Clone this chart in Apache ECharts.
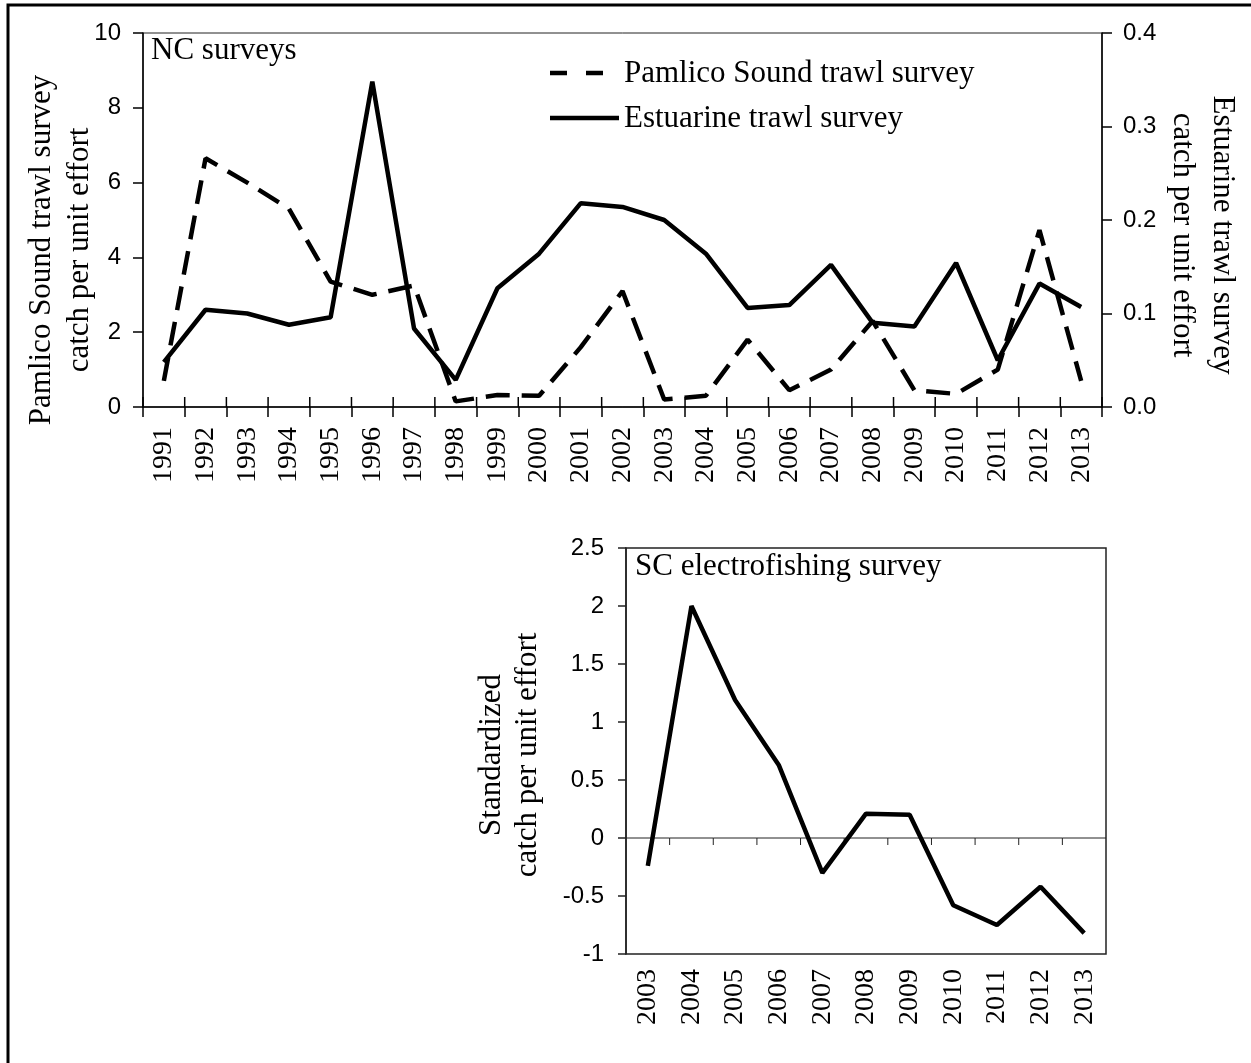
<!DOCTYPE html>
<html>
<head>
<meta charset="utf-8">
<script src="https://cdn.jsdelivr.net/npm/echarts@6/dist/echarts.min.js"></script>
<style>
  html, body { margin: 0; padding: 0; background: #fff; }
  #chart { width: 1251px; height: 1063px; }
</style>
</head>
<body>
<div id="chart"></div>
<script>
// NC surveys (1991-2013)
const ncYears = ['1991','1992','1993','1994','1995','1996','1997','1998','1999','2000','2001','2002',
                 '2003','2004','2005','2006','2007','2008','2009','2010','2011','2012','2013'];
// Pamlico Sound trawl survey CPUE (left axis)
const pamlicoCpue = [0.7, 6.65, 6.0, 5.3, 3.35, 3.0, 3.25, 0.15, 0.32, 0.3, 1.6, 3.1,
                     0.2, 0.3, 1.8, 0.45, 1.0, 2.3, 0.45, 0.35, 1.0, 4.73, 0.7];
// Estuarine trawl survey CPUE (right axis)
const estuarineCpue = [0.048, 0.104, 0.1, 0.088, 0.096, 0.348, 0.084, 0.029, 0.127, 0.164, 0.218, 0.214,
                       0.2, 0.164, 0.106, 0.109, 0.152, 0.09, 0.086, 0.154, 0.05, 0.132, 0.107];

// SC electrofishing survey (2003-2013)
const scYears = ['2003','2004','2005','2006','2007','2008','2009','2010','2011','2012','2013'];
const scStdCpue = [-0.24, 2.0, 1.19, 0.63, -0.3, 0.21, 0.2, -0.58, -0.75, -0.42, -0.82];

const SERIF = "'Liberation Serif', 'Times New Roman', serif";
const SANS = "'Liberation Sans', Arial, sans-serif";
const INK = '#000';
const DASH = [24, 12];

const chart = echarts.init(document.getElementById('chart'), null, { renderer: 'canvas' });

const yearLabel = (margin) => ({
  show: true, rotate: 90, margin: margin, interval: 0,
  fontFamily: SERIF, fontSize: 28, color: INK
});
const valueLabel = (margin, fmt) => ({
  show: true, margin: margin, fontFamily: SANS, fontSize: 24, color: INK, formatter: fmt
});

// inward half of the NC year ticks, at category boundaries
function ncInnerTicks(params, api) {
  const i = api.value(0);
  const p = api.coord([i, 0]);
  const bw = api.size([1, 0])[0];
  const xs = [p[0] - bw / 2];
  if (i === ncYears.length - 1) xs.push(p[0] + bw / 2);
  return {
    type: 'group',
    children: xs.map(x => ({
      type: 'line', silent: true,
      shape: { x1: x, y1: p[1], x2: x, y2: p[1] - 10 },
      style: { stroke: INK, lineWidth: 1.5 }
    }))
  };
}

// zero line of the SC panel with downward ticks between years
function scZeroLine(params, api) {
  const i = api.value(0);
  const p = api.coord([i, 0]);
  const bw = api.size([1, 0])[0];
  const children = [{
    type: 'line', silent: true,
    shape: { x1: p[0] - bw / 2, y1: p[1], x2: p[0] + bw / 2, y2: p[1] },
    style: { stroke: '#222', lineWidth: 1 }
  }];
  if (i > 0) {
    children.push({
      type: 'line', silent: true,
      shape: { x1: p[0] - bw / 2, y1: p[1], x2: p[0] - bw / 2, y2: p[1] + 7 },
      style: { stroke: '#222', lineWidth: 1 }
    });
  }
  return { type: 'group', children: children };
}

const option = {
  animation: false,
  backgroundColor: '#fff',
  grid: [
    { left: 143, top: 33, width: 959, height: 374, show: true, borderColor: '#222', borderWidth: 1 },
    { left: 626, top: 548, width: 480, height: 406, show: true, borderColor: '#222', borderWidth: 1.5 }
  ],
  xAxis: [
    {
      type: 'category', gridIndex: 0, data: ncYears,
      axisLine: { show: true, onZero: false, lineStyle: { color: INK, width: 1.5 } },
      axisTick: { show: true, inside: false, length: 10, interval: 0, lineStyle: { color: INK, width: 1.5 } },
      axisLabel: yearLabel(20), splitLine: { show: false }
    },
    {
      type: 'category', gridIndex: 1, data: scYears,
      axisLine: { show: false, onZero: false },
      axisTick: { show: false },
      axisLabel: yearLabel(15), splitLine: { show: false }
    }
  ],
  yAxis: [
    {
      type: 'value', gridIndex: 0, position: 'left', min: 0, max: 10, interval: 2,
      axisLine: { show: true, lineStyle: { color: INK, width: 1.5 } },
      axisTick: { show: true, inside: false, length: 10, lineStyle: { color: INK, width: 1.5 } },
      axisLabel: valueLabel(22), splitLine: { show: false }
    },
    {
      type: 'value', gridIndex: 0, position: 'right', min: 0, max: 0.4, interval: 0.1,
      axisLine: { show: true, lineStyle: { color: INK, width: 1.5 } },
      axisTick: { show: true, inside: false, length: 10, lineStyle: { color: INK, width: 1.5 } },
      axisLabel: valueLabel(21, v => v.toFixed(1)), splitLine: { show: false }
    },
    {
      type: 'value', gridIndex: 1, position: 'left', min: -1, max: 2.5, interval: 0.5,
      axisLine: { show: true, lineStyle: { color: '#222', width: 1.5 } },
      axisTick: { show: true, inside: false, length: 8, lineStyle: { color: '#222', width: 1.5 } },
      axisLabel: valueLabel(22), splitLine: { show: false }
    }
  ],
  series: [
    {
      name: 'Pamlico Sound trawl survey', type: 'line', xAxisIndex: 0, yAxisIndex: 0,
      data: pamlicoCpue, symbol: 'none', smooth: false,
      lineStyle: { color: INK, width: 4.5, type: DASH }, itemStyle: { color: INK }
    },
    {
      name: 'Estuarine trawl survey', type: 'line', xAxisIndex: 0, yAxisIndex: 1,
      data: estuarineCpue, symbol: 'none', smooth: false,
      lineStyle: { color: INK, width: 4.5, type: 'solid' }, itemStyle: { color: INK }
    },
    {
      name: 'SC electrofishing survey', type: 'line', xAxisIndex: 1, yAxisIndex: 2, z: 3,
      data: scStdCpue, symbol: 'none', smooth: false,
      lineStyle: { color: INK, width: 4.5, type: 'solid' }, itemStyle: { color: INK }
    },
    {
      type: 'custom', xAxisIndex: 0, yAxisIndex: 0, silent: true, clip: false, z: 4,
      renderItem: ncInnerTicks,
      data: ncYears.map((y, i) => [i, 0])
    },
    {
      type: 'custom', xAxisIndex: 1, yAxisIndex: 2, silent: true, clip: false, z: 1,
      renderItem: scZeroLine,
      data: scYears.map((y, i) => [i, 0])
    }
  ],
  graphic: [
    { // figure frame
      type: 'rect', silent: true, z: 100,
      shape: { x: 8, y: 5, width: 1300, height: 1100 },
      style: { fill: 'none', stroke: INK, lineWidth: 3 }
    },
    {
      type: 'text', left: 151, top: 35, silent: true,
      style: { text: 'NC surveys', fontFamily: SERIF, fontSize: 31, fill: INK }
    },
    {
      type: 'text', left: 635, top: 551, silent: true,
      style: { text: 'SC electrofishing survey', fontFamily: SERIF, fontSize: 31, fill: INK }
    },
    // key for the two NC series
    {
      type: 'line', silent: true,
      shape: { x1: 550, y1: 73, x2: 604, y2: 73 },
      style: { stroke: INK, lineWidth: 4.5, lineDash: [17, 19] }
    },
    {
      type: 'text', x: 624, y: 74, silent: true,
      style: { text: 'Pamlico Sound trawl survey', fontFamily: SERIF, fontSize: 31, fill: INK,
               align: 'left', verticalAlign: 'middle' }
    },
    {
      type: 'line', silent: true,
      shape: { x1: 550, y1: 118, x2: 619, y2: 118 },
      style: { stroke: INK, lineWidth: 4.5 }
    },
    {
      type: 'text', x: 624, y: 119, silent: true,
      style: { text: 'Estuarine trawl survey', fontFamily: SERIF, fontSize: 31, fill: INK,
               align: 'left', verticalAlign: 'middle' }
    },
    // axis titles
    {
      type: 'text', x: 61, y: 250, rotation: Math.PI / 2, silent: true,
      style: { text: 'Pamlico Sound trawl survey\ncatch per unit effort', fontFamily: SERIF, fontSize: 31,
               lineHeight: 38, fill: INK, align: 'center', verticalAlign: 'middle' }
    },
    {
      type: 'text', x: 1202, y: 235, rotation: -Math.PI / 2, silent: true,
      style: { text: 'Estuarine trawl survey\ncatch per unit effort', fontFamily: SERIF, fontSize: 31,
               lineHeight: 40, fill: INK, align: 'center', verticalAlign: 'middle' }
    },
    {
      type: 'text', x: 510, y: 755, rotation: Math.PI / 2, silent: true,
      style: { text: 'Standardized\ncatch per unit effort', fontFamily: SERIF, fontSize: 31,
               lineHeight: 36, fill: INK, align: 'center', verticalAlign: 'middle' }
    }
  ]
};

chart.setOption(option);
</script>
</body>
</html>
